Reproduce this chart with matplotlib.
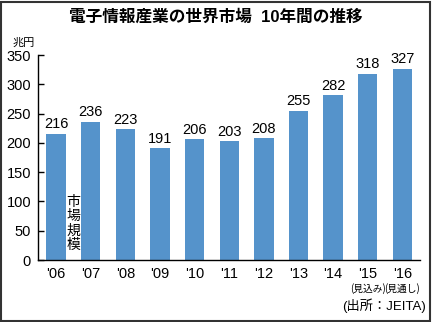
import matplotlib
matplotlib.use("Agg")
import matplotlib.pyplot as plt
from matplotlib.patches import Rectangle

plt.rcParams['font.family'] = ['Liberation Sans', 'Noto Sans CJK JP', 'DejaVu Sans']

years = ["'06", "'07", "'08", "'09", "'10", "'11", "'12", "'13", "'14", "'15", "'16"]
values = [216, 236, 223, 191, 206, 203, 208, 255, 282, 318, 327]
notes = {9: '(見込み)', 10: '(見通し)'}
yticks = [0, 50, 100, 150, 200, 250, 300, 350]
label_chars = '市場規模'

fig = plt.figure(figsize=(4.32, 3.22), dpi=100)
ax = fig.add_axes([0.088, 0.1925, 0.884, 0.6366])

x = list(range(len(years)))
ax.bar(x, values, width=0.56, color='#5593cb')
for i, v in zip(x, values):
    ax.text(i, v + 4, str(v), ha='center', va='bottom', fontsize=10.5)

ax.set_xlim(-0.52, 10.505)
ax.set_ylim(0, 350)
ax.set_yticks(yticks)
ax.set_xticks(x)
ax.set_xticklabels(years, fontsize=10.5)
ax.tick_params(axis='x', length=0, pad=5)
ax.tick_params(axis='y', direction='in', length=4, width=1, labelsize=10.5, pad=5)
for s in ['top', 'right']:
    ax.spines[s].set_visible(False)
ax.spines['left'].set_linewidth(1)
ax.spines['bottom'].set_linewidth(1)

for i, n in notes.items():
    ax.text(i, -39, n, ha='center', va='top', fontsize=7, family='Noto Sans CJK JP')

# vertical label, one character at a time
for k, ch in enumerate(label_chars):
    ax.text(0.5, 99 - k * 24.5, ch, ha='center', va='center', fontsize=10,
            family='Noto Sans CJK JP')

fig.text(0.5, 0.947, '電子情報産業の世界市場  10年間の推移', ha='center', va='center',
         fontsize=12, fontweight='bold')
fig.text(0.028, 0.866, '兆円', ha='left', va='center', fontsize=8)
fig.text(0.985, 0.052, '(出所：JEITA)', ha='right', va='center', fontsize=9.5)

fig.patches.append(Rectangle((0.003, 0.004), 0.993, 0.991, transform=fig.transFigure,
                             fill=False, edgecolor='#333333', linewidth=1.5))

fig.savefig('out.png', dpi=100)
